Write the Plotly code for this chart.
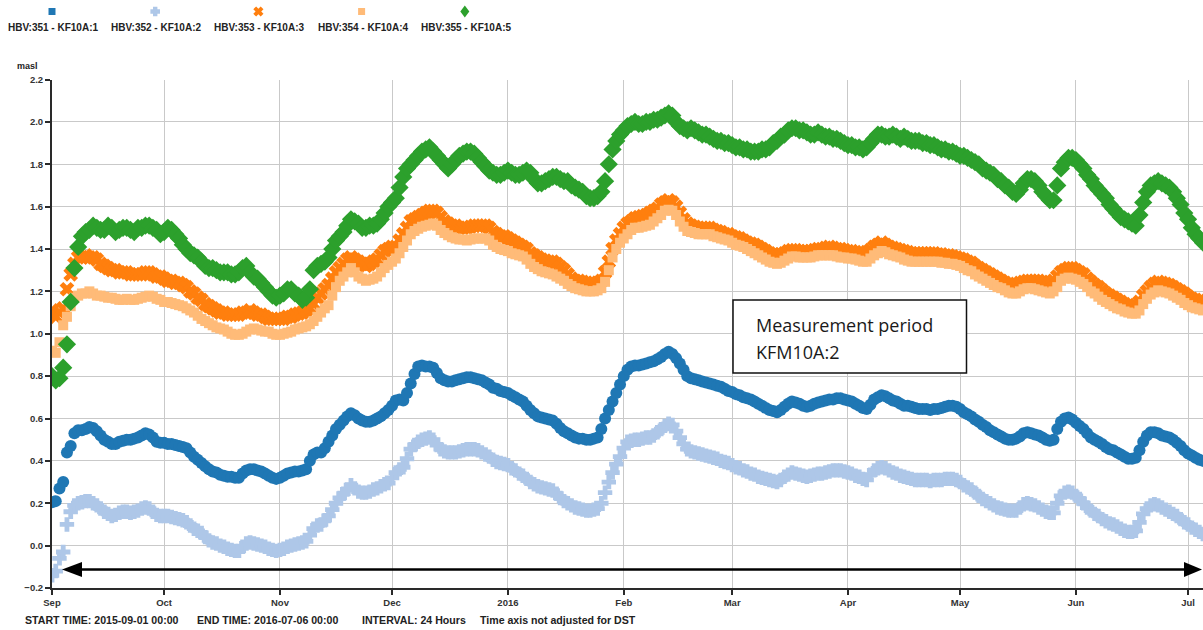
import math
import pandas as pd
import plotly.graph_objects as go

# ---------------------------------------------------------------------------
# Daily groundwater levels (masl) from 2015-09-01, ten days per row
# ---------------------------------------------------------------------------
START_DATE = "2015-09-01"

HBV351 = [
    0.205, 0.21, 0.27, 0.30, 0.44, 0.47, 0.53, 0.545, 0.545, 0.55,
    0.56, 0.555, 0.54, 0.52, 0.50, 0.49, 0.48, 0.48, 0.49, 0.495,
    0.50, 0.50, 0.505, 0.51, 0.52, 0.53, 0.525, 0.51, 0.49, 0.485,
    0.485, 0.48, 0.48, 0.475, 0.47, 0.465, 0.46, 0.44, 0.42, 0.405,
    0.39, 0.375, 0.36, 0.35, 0.345, 0.335, 0.33, 0.325, 0.325, 0.32,
    0.32, 0.34, 0.355, 0.36, 0.36, 0.355, 0.35, 0.34, 0.33, 0.32,
    0.315, 0.32, 0.33, 0.34, 0.345, 0.35, 0.35, 0.355, 0.36, 0.40,
    0.43, 0.44, 0.44, 0.46, 0.49, 0.52, 0.55, 0.57, 0.59, 0.61,
    0.625, 0.615, 0.60, 0.59, 0.585, 0.585, 0.59, 0.60, 0.61, 0.625,
    0.64, 0.66, 0.685, 0.69, 0.685, 0.72, 0.765, 0.81, 0.845, 0.85,
    0.845, 0.845, 0.84, 0.815, 0.79, 0.78, 0.775, 0.775, 0.78, 0.785,
    0.79, 0.795, 0.795, 0.79, 0.785, 0.78, 0.77, 0.76, 0.745, 0.74,
    0.73, 0.725, 0.72, 0.71, 0.70, 0.69, 0.68, 0.66, 0.64, 0.625,
    0.61, 0.605, 0.60, 0.595, 0.59, 0.575, 0.555, 0.54, 0.53, 0.52,
    0.51, 0.505, 0.505, 0.50, 0.50, 0.505, 0.51, 0.55, 0.60, 0.64,
    0.68, 0.72, 0.76, 0.80, 0.83, 0.845, 0.85, 0.85, 0.855, 0.86,
    0.865, 0.87, 0.88, 0.89, 0.905, 0.915, 0.905, 0.885, 0.86, 0.83,
    0.80, 0.79, 0.785, 0.78, 0.775, 0.77, 0.765, 0.76, 0.755, 0.75,
    0.74, 0.73, 0.725, 0.715, 0.71, 0.70, 0.695, 0.69, 0.68, 0.67,
    0.66, 0.65, 0.64, 0.635, 0.63, 0.64, 0.655, 0.67, 0.68, 0.675,
    0.67, 0.66, 0.655, 0.66, 0.67, 0.675, 0.68, 0.685, 0.69, 0.69,
    0.695, 0.695, 0.69, 0.685, 0.68, 0.67, 0.66, 0.65, 0.645, 0.665,
    0.69, 0.70, 0.71, 0.705, 0.695, 0.685, 0.68, 0.67, 0.66, 0.66,
    0.655, 0.65, 0.645, 0.645, 0.645, 0.64, 0.645, 0.645, 0.65, 0.655,
    0.66, 0.66, 0.655, 0.645, 0.63, 0.62, 0.61, 0.595, 0.585, 0.57,
    0.56, 0.545, 0.535, 0.525, 0.515, 0.505, 0.50, 0.50, 0.505, 0.515,
    0.53, 0.535, 0.53, 0.525, 0.52, 0.51, 0.50, 0.495, 0.50, 0.55,
    0.585, 0.60, 0.605, 0.595, 0.58, 0.565, 0.55, 0.53, 0.51, 0.50,
    0.49, 0.48, 0.465, 0.455, 0.45, 0.44, 0.43, 0.42, 0.41, 0.41,
    0.415, 0.45, 0.49, 0.52, 0.535, 0.535, 0.53, 0.52, 0.515, 0.51,
    0.50, 0.485, 0.47, 0.45, 0.435, 0.425, 0.415, 0.405, 0.40,
]

HBV352 = [
    -0.14, -0.12, -0.06, -0.03, 0.10, 0.16, 0.19, 0.20, 0.205, 0.21,
    0.21, 0.20, 0.19, 0.175, 0.16, 0.15, 0.14, 0.145, 0.155, 0.16,
    0.16, 0.155, 0.16, 0.165, 0.175, 0.18, 0.175, 0.16, 0.145, 0.14,
    0.14, 0.14, 0.135, 0.13, 0.125, 0.12, 0.11, 0.095, 0.08, 0.07,
    0.06, 0.04, 0.025, 0.015, 0.01, 0.0, -0.005, -0.015, -0.02, -0.025,
    -0.025, -0.005, 0.01, 0.015, 0.01, 0.005, 0.0, -0.005, -0.015, -0.02,
    -0.025, -0.02, -0.015, -0.005, 0.0, 0.005, 0.01, 0.015, 0.02, 0.05,
    0.08, 0.095, 0.10, 0.12, 0.14, 0.17, 0.20, 0.225, 0.245, 0.265,
    0.285, 0.27, 0.255, 0.25, 0.25, 0.255, 0.265, 0.27, 0.28, 0.29,
    0.295, 0.32, 0.345, 0.36, 0.37, 0.41, 0.455, 0.475, 0.49, 0.50,
    0.505, 0.51, 0.50, 0.475, 0.455, 0.445, 0.44, 0.44, 0.44, 0.445,
    0.45, 0.455, 0.455, 0.455, 0.45, 0.44, 0.43, 0.42, 0.405, 0.395,
    0.39, 0.385, 0.38, 0.365, 0.355, 0.34, 0.33, 0.315, 0.30, 0.29,
    0.28, 0.275, 0.27, 0.265, 0.26, 0.245, 0.225, 0.21, 0.20, 0.19,
    0.18, 0.175, 0.17, 0.165, 0.165, 0.17, 0.175, 0.20, 0.25, 0.30,
    0.345, 0.385, 0.42, 0.46, 0.49, 0.495, 0.50, 0.50, 0.505, 0.51,
    0.51, 0.52, 0.535, 0.55, 0.565, 0.575, 0.57, 0.54, 0.51, 0.48,
    0.455, 0.445, 0.44, 0.435, 0.43, 0.425, 0.42, 0.415, 0.41, 0.40,
    0.395, 0.39, 0.38, 0.37, 0.365, 0.355, 0.35, 0.34, 0.335, 0.325,
    0.32, 0.315, 0.31, 0.305, 0.30, 0.31, 0.325, 0.335, 0.345, 0.34,
    0.335, 0.33, 0.325, 0.33, 0.335, 0.34, 0.34, 0.345, 0.35, 0.355,
    0.355, 0.355, 0.35, 0.345, 0.34, 0.33, 0.325, 0.315, 0.31, 0.335,
    0.355, 0.365, 0.37, 0.365, 0.355, 0.345, 0.34, 0.33, 0.325, 0.32,
    0.315, 0.31, 0.31, 0.31, 0.31, 0.305, 0.31, 0.31, 0.31, 0.315,
    0.315, 0.315, 0.31, 0.30, 0.285, 0.275, 0.265, 0.25, 0.235, 0.22,
    0.21, 0.20, 0.19, 0.18, 0.175, 0.17, 0.165, 0.165, 0.165, 0.18,
    0.195, 0.20, 0.195, 0.19, 0.18, 0.17, 0.16, 0.155, 0.155, 0.20,
    0.235, 0.25, 0.255, 0.25, 0.235, 0.22, 0.20, 0.18, 0.165, 0.15,
    0.14, 0.125, 0.115, 0.105, 0.10, 0.09, 0.08, 0.07, 0.065, 0.065,
    0.07, 0.11, 0.15, 0.175, 0.19, 0.195, 0.19, 0.18, 0.17, 0.16,
    0.15, 0.14, 0.125, 0.11, 0.10, 0.085, 0.075, 0.065, 0.055,
]

HBV353 = [
    1.11, 1.08, 1.10, 1.12, 1.21, 1.28, 1.33, 1.36, 1.36, 1.37,
    1.36, 1.36, 1.35, 1.33, 1.32, 1.31, 1.30, 1.30, 1.29, 1.29,
    1.29, 1.28, 1.28, 1.28, 1.28, 1.29, 1.29, 1.28, 1.27, 1.27,
    1.26, 1.25, 1.25, 1.24, 1.24, 1.23, 1.22, 1.20, 1.19, 1.17,
    1.16, 1.14, 1.13, 1.12, 1.11, 1.10, 1.10, 1.09, 1.09, 1.09,
    1.09, 1.10, 1.10, 1.11, 1.10, 1.09, 1.09, 1.08, 1.07, 1.07,
    1.07, 1.07, 1.07, 1.08, 1.08, 1.09, 1.095, 1.10, 1.11, 1.12,
    1.14, 1.17, 1.19, 1.21, 1.23, 1.26, 1.29, 1.31, 1.33, 1.35,
    1.36, 1.35, 1.34, 1.33, 1.32, 1.33, 1.34, 1.35, 1.37, 1.39,
    1.40, 1.41, 1.41, 1.44, 1.47, 1.50, 1.53, 1.54, 1.55, 1.56,
    1.57, 1.58, 1.58, 1.57, 1.55, 1.53, 1.52, 1.51, 1.51, 1.50,
    1.50, 1.50, 1.505, 1.51, 1.51, 1.51, 1.51, 1.50, 1.48, 1.47,
    1.46, 1.46, 1.45, 1.44, 1.43, 1.42, 1.41, 1.40, 1.38, 1.37,
    1.36, 1.35, 1.345, 1.34, 1.34, 1.33, 1.315, 1.30, 1.28, 1.26,
    1.25, 1.25, 1.245, 1.24, 1.24, 1.24, 1.24, 1.25, 1.29, 1.34,
    1.40, 1.44, 1.47, 1.50, 1.52, 1.53, 1.545, 1.55, 1.555, 1.56,
    1.57, 1.58, 1.59, 1.61, 1.62, 1.63, 1.62, 1.60, 1.57, 1.54,
    1.52, 1.51, 1.505, 1.50, 1.50, 1.50, 1.50, 1.49, 1.485, 1.48,
    1.47, 1.47, 1.46, 1.455, 1.45, 1.44, 1.43, 1.425, 1.42, 1.41,
    1.40, 1.39, 1.38, 1.375, 1.37, 1.375, 1.38, 1.39, 1.395, 1.395,
    1.39, 1.39, 1.39, 1.39, 1.395, 1.40, 1.40, 1.405, 1.41, 1.405,
    1.40, 1.40, 1.395, 1.39, 1.39, 1.385, 1.385, 1.38, 1.38, 1.395,
    1.41, 1.42, 1.43, 1.42, 1.41, 1.405, 1.40, 1.395, 1.39, 1.385,
    1.38, 1.38, 1.38, 1.38, 1.38, 1.38, 1.38, 1.375, 1.375, 1.37,
    1.37, 1.365, 1.36, 1.355, 1.35, 1.34, 1.335, 1.32, 1.31, 1.30,
    1.29, 1.28, 1.27, 1.26, 1.25, 1.24, 1.235, 1.23, 1.23, 1.24,
    1.245, 1.25, 1.25, 1.25, 1.25, 1.245, 1.245, 1.24, 1.25, 1.27,
    1.29, 1.30, 1.31, 1.31, 1.30, 1.29, 1.28, 1.26, 1.245, 1.23,
    1.22, 1.205, 1.19, 1.18, 1.17, 1.16, 1.15, 1.14, 1.135, 1.13,
    1.13, 1.15, 1.18, 1.20, 1.22, 1.235, 1.245, 1.24, 1.235, 1.23,
    1.22, 1.21, 1.20, 1.19, 1.175, 1.165, 1.16, 1.155, 1.15,
]

HBV354 = [
    0.92, 0.91, 0.96, 1.04, 1.08, 1.13, 1.17, 1.18, 1.19, 1.19,
    1.20, 1.19, 1.18, 1.18, 1.175, 1.17, 1.17, 1.165, 1.16, 1.16,
    1.165, 1.16, 1.16, 1.165, 1.17, 1.175, 1.18, 1.175, 1.165, 1.16,
    1.15, 1.15, 1.145, 1.14, 1.135, 1.13, 1.12, 1.11, 1.10, 1.085,
    1.07, 1.06, 1.05, 1.04, 1.03, 1.025, 1.02, 1.01, 1.00, 0.995,
    0.995, 1.00, 1.01, 1.02, 1.025, 1.02, 1.015, 1.01, 1.01, 1.00,
    0.995, 0.995, 1.00, 1.005, 1.01, 1.02, 1.025, 1.03, 1.035, 1.045,
    1.06, 1.08, 1.10, 1.12, 1.135, 1.18, 1.22, 1.25, 1.27, 1.29,
    1.31, 1.29, 1.27, 1.26, 1.25, 1.255, 1.26, 1.27, 1.29, 1.31,
    1.325, 1.34, 1.355, 1.38, 1.41, 1.44, 1.47, 1.485, 1.495, 1.505,
    1.51, 1.515, 1.52, 1.51, 1.49, 1.475, 1.465, 1.455, 1.45, 1.445,
    1.445, 1.44, 1.445, 1.45, 1.45, 1.45, 1.45, 1.44, 1.42, 1.41,
    1.40, 1.395, 1.39, 1.38, 1.375, 1.37, 1.365, 1.35, 1.33, 1.315,
    1.305, 1.295, 1.29, 1.285, 1.28, 1.27, 1.26, 1.25, 1.235, 1.225,
    1.215, 1.21, 1.205, 1.20, 1.20, 1.20, 1.205, 1.215, 1.245, 1.30,
    1.36, 1.40, 1.43, 1.45, 1.47, 1.49, 1.50, 1.50, 1.505, 1.51,
    1.515, 1.53, 1.545, 1.56, 1.58, 1.585, 1.58, 1.56, 1.53, 1.505,
    1.485, 1.48, 1.475, 1.47, 1.47, 1.47, 1.47, 1.46, 1.455, 1.45,
    1.445, 1.44, 1.43, 1.42, 1.415, 1.41, 1.40, 1.39, 1.38, 1.37,
    1.36, 1.35, 1.34, 1.335, 1.33, 1.335, 1.345, 1.355, 1.365, 1.365,
    1.36, 1.36, 1.36, 1.36, 1.365, 1.37, 1.37, 1.37, 1.37, 1.37,
    1.365, 1.36, 1.36, 1.355, 1.355, 1.35, 1.345, 1.34, 1.34, 1.355,
    1.37, 1.38, 1.39, 1.385, 1.375, 1.37, 1.365, 1.36, 1.35, 1.345,
    1.34, 1.34, 1.34, 1.34, 1.34, 1.34, 1.34, 1.34, 1.335, 1.335,
    1.33, 1.33, 1.325, 1.32, 1.31, 1.30, 1.295, 1.28, 1.27, 1.26,
    1.25, 1.24, 1.23, 1.22, 1.215, 1.205, 1.195, 1.19, 1.19, 1.20,
    1.21, 1.215, 1.215, 1.21, 1.205, 1.20, 1.195, 1.19, 1.20, 1.22,
    1.25, 1.26, 1.265, 1.26, 1.255, 1.245, 1.235, 1.22, 1.20, 1.19,
    1.175, 1.16, 1.15, 1.14, 1.13, 1.12, 1.115, 1.105, 1.10, 1.095,
    1.095, 1.11, 1.14, 1.165, 1.185, 1.195, 1.205, 1.20, 1.195, 1.19,
    1.18, 1.17, 1.16, 1.145, 1.135, 1.125, 1.12, 1.115, 1.11,
]

HBV355 = [
    0.80, 0.78, 0.79, 0.84, 0.95, 1.15, 1.31, 1.41, 1.46, 1.48,
    1.49, 1.51, 1.50, 1.49, 1.49, 1.51, 1.50, 1.48, 1.49, 1.50,
    1.50, 1.49, 1.48, 1.50, 1.50, 1.51, 1.51, 1.50, 1.49, 1.47,
    1.48, 1.50, 1.49, 1.47, 1.45, 1.42, 1.40, 1.38, 1.37, 1.36,
    1.34, 1.32, 1.31, 1.31, 1.30, 1.29, 1.29, 1.29, 1.28, 1.28,
    1.29, 1.31, 1.32, 1.29, 1.27, 1.26, 1.24, 1.22, 1.20, 1.18,
    1.17, 1.18, 1.19, 1.21, 1.21, 1.19, 1.18, 1.16, 1.17, 1.21,
    1.30, 1.32, 1.33, 1.34, 1.36, 1.40, 1.44, 1.46, 1.48, 1.51,
    1.54, 1.53, 1.52, 1.50, 1.50, 1.51, 1.51, 1.52, 1.54, 1.57,
    1.60, 1.62, 1.64, 1.69, 1.74, 1.78, 1.80, 1.82, 1.84, 1.86,
    1.87, 1.88, 1.86, 1.84, 1.82, 1.80, 1.78, 1.80, 1.82, 1.84,
    1.85, 1.86, 1.86, 1.85, 1.83, 1.81, 1.79, 1.77, 1.76, 1.75,
    1.75, 1.76, 1.77, 1.76, 1.75, 1.75, 1.76, 1.77, 1.76, 1.73,
    1.71, 1.71, 1.72, 1.73, 1.74, 1.74, 1.73, 1.72, 1.72, 1.70,
    1.69, 1.68, 1.67, 1.65, 1.64, 1.64, 1.65, 1.67, 1.72, 1.80,
    1.87, 1.91, 1.94, 1.96, 1.98, 1.99, 2.00, 1.99, 1.99, 2.00,
    2.00, 2.01, 2.01, 2.02, 2.03, 2.04, 2.03, 2.00, 1.98, 1.97,
    1.96, 1.97, 1.96, 1.95, 1.94, 1.94, 1.93, 1.92, 1.91, 1.91,
    1.90, 1.90, 1.89, 1.88, 1.88, 1.87, 1.87, 1.86, 1.86, 1.86,
    1.87, 1.87, 1.88, 1.90, 1.91, 1.93, 1.94, 1.96, 1.97, 1.97,
    1.96, 1.96, 1.95, 1.94, 1.94, 1.95, 1.94, 1.93, 1.93, 1.92,
    1.92, 1.91, 1.90, 1.89, 1.89, 1.88, 1.88, 1.87, 1.88, 1.90,
    1.92, 1.94, 1.94, 1.93, 1.93, 1.94, 1.93, 1.92, 1.93, 1.92,
    1.91, 1.91, 1.91, 1.90, 1.90, 1.89, 1.89, 1.88, 1.87, 1.87,
    1.86, 1.86, 1.85, 1.84, 1.84, 1.83, 1.82, 1.81, 1.80, 1.78,
    1.77, 1.76, 1.75, 1.73, 1.72, 1.70, 1.69, 1.67, 1.66, 1.68,
    1.71, 1.73, 1.73, 1.72, 1.70, 1.67, 1.65, 1.63, 1.63, 1.70,
    1.78, 1.81, 1.83, 1.83, 1.82, 1.80, 1.78, 1.75, 1.73, 1.70,
    1.68, 1.66, 1.64, 1.61, 1.59, 1.57, 1.55, 1.54, 1.53, 1.52,
    1.51, 1.56, 1.62, 1.67, 1.70, 1.71, 1.72, 1.71, 1.70, 1.69,
    1.67, 1.64, 1.61, 1.57, 1.54, 1.50, 1.47, 1.45, 1.43,
]

SERIES_NAMES = [
    "HBV:351 - KF10A:1",
    "HBV:352 - KF10A:2",
    "HBV:353 - KF10A:3",
    "HBV:354 - KF10A:4",
    "HBV:355 - KF10A:5",
]
SERIES_VALUES = [HBV351, HBV352, HBV353, HBV354, HBV355]

TICK_DATES = [
    "2015-09-01", "2015-10-01", "2015-11-01", "2015-12-01", "2016-01-01",
    "2016-02-01", "2016-03-01", "2016-04-01", "2016-05-01", "2016-06-01",
    "2016-07-01",
]
TICK_LABELS = ["Sep", "Oct", "Nov", "Dec", "2016", "Feb", "Mar", "Apr",
               "May", "Jun", "Jul"]

FOOTER_TEXTS = [
    "START TIME: 2015-09-01 00:00",
    "END TIME: 2016-07-06 00:00",
    "INTERVAL: 24 Hours",
    "Time axis not adjusted for DST",
]
BOX_LINES = ["Measurement period", "KFM10A:2"]
Y_UNIT = "masl"

# ---------------------------------------------------------------------------
# Styling
# ---------------------------------------------------------------------------
W, H = 1203, 630
COLORS = ["#1f77b4", "#aec7e8", "#ff7f0e", "#ffbb78", "#2ca02c"]
SYMBOLS = ["circle", "cross", "x", "square", "diamond"]
SIZES = [12, 12, 13, 10, 14]

SMALL = dict(family="Liberation Sans, Arial, sans-serif", size=10,
             color="#222222", weight="bold")
AXIS_COLOR = "#2a2a2a"
GRID_COLOR = "#c9c9c9"

# plot-area edges in pixels
LEFT, TOP, BOTTOM = 52, 79.5, 588


def px(x):
    return x / W


def py(y):
    return 1 - y / H


def poly(points):
    pts = [f"{px(x):.5f},{py(y):.5f}" for x, y in points]
    return "M " + " L ".join(pts) + " Z"


def plus_points(cx, cy, a, w, angle=0.0):
    base = [(-w, -a), (w, -a), (w, -w), (a, -w), (a, w), (w, w),
            (w, a), (-w, a), (-w, w), (-a, w), (-a, -w), (-w, -w)]
    c, s = math.cos(angle), math.sin(angle)
    return [(cx + x * c - y * s, cy + x * s + y * c) for x, y in base]


dates = pd.date_range(START_DATE, periods=len(HBV355), freq="D")

fig = go.Figure()
for name, vals, col, sym, size in zip(SERIES_NAMES, SERIES_VALUES, COLORS,
                                      SYMBOLS, SIZES):
    fig.add_trace(go.Scatter(
        x=dates[:len(vals)], y=vals, mode="markers", name=name,
        marker=dict(color=col, symbol=sym, size=size, line=dict(width=0)),
        showlegend=False,
    ))

shapes = []
annotations = []

# legend row: symbol above each label
for i, (name, col) in enumerate(zip(SERIES_NAMES, COLORS)):
    tx = 6 + 103.2 * i
    cx, cy = 52 + 103.2 * i, 11.5
    if i in (0, 3):
        pts = [(cx - 3.5, cy - 3.5), (cx + 3.5, cy - 3.5),
               (cx + 3.5, cy + 3.5), (cx - 3.5, cy + 3.5)]
    elif i == 1:
        pts = plus_points(cx, cy, 4.8, 2.2)
    elif i == 2:
        pts = plus_points(cx, cy, 5.2, 2.0, math.pi / 4)
    else:
        pts = [(cx, cy - 6), (cx + 4.5, cy), (cx, cy + 6), (cx - 4.5, cy)]
    shapes.append(dict(type="path", xref="paper", yref="paper",
                       path=poly(pts), fillcolor=col, line=dict(width=0)))
    annotations.append(dict(x=px(tx), y=py(28), xref="paper", yref="paper",
                            text=name, showarrow=False, xanchor="left",
                            yanchor="middle", font=SMALL))

# axis unit label
annotations.append(dict(x=px(27), y=py(66), xref="paper", yref="paper",
                        text=Y_UNIT, showarrow=False, xanchor="center",
                        yanchor="middle", font={**SMALL, "size": 9}))

# footer
for text, x in zip(FOOTER_TEXTS, [23, 195, 360, 478]):
    annotations.append(dict(x=px(x), y=py(620), xref="paper", yref="paper",
                            text=text, showarrow=False, xanchor="left",
                            yanchor="middle", font={**SMALL, "size": 10.6}))

# measurement period box
shapes.append(dict(type="rect", xref="paper", yref="paper",
                   x0=px(733), x1=px(966.5), y0=py(300), y1=py(373),
                   line=dict(color="#111111", width=1.5), fillcolor="white",
                   layer="above"))
for line, y in zip(BOX_LINES, [325, 352]):
    annotations.append(dict(x=px(754), y=py(y), xref="paper", yref="paper",
                            text=line, showarrow=False, xanchor="left",
                            yanchor="middle",
                            font=dict(family="Open Sans, sans-serif",
                                      size=18, color="#1a1a1a")))

# double-headed arrow spanning the measurement period
ay = 569.5
shapes.append(dict(type="line", xref="paper", yref="paper",
                   x0=px(75), x1=px(1190), y0=py(ay), y1=py(ay),
                   line=dict(color="#000000", width=2.5)))
shapes.append(dict(type="path", xref="paper", yref="paper",
                   path=poly([(62, ay), (82, ay - 7.5), (82, ay + 7.5)]),
                   fillcolor="#000000", line=dict(width=0)))
shapes.append(dict(type="path", xref="paper", yref="paper",
                   path=poly([(1202, ay), (1184, ay - 7.5), (1184, ay + 7.5)]),
                   fillcolor="#000000", line=dict(width=0)))

axis_common = dict(
    showgrid=True, gridcolor=GRID_COLOR, gridwidth=1,
    showline=True, linecolor=AXIS_COLOR, linewidth=2,
    ticks="outside", ticklen=5, tickwidth=1.5, tickcolor=AXIS_COLOR,
    zeroline=False, automargin=False,
    tickfont={**SMALL, "size": 9.5, "color": "#333333"},
)

fig.update_layout(
    width=W, height=H,
    margin=dict(l=0, r=0, t=0, b=0),
    paper_bgcolor="white", plot_bgcolor="white",
    showlegend=False,
    shapes=shapes, annotations=annotations,
    xaxis=dict(
        type="date", range=["2015-09-01", "2016-07-05"],
        domain=[px(LEFT), 1.0],
        tickvals=TICK_DATES, ticktext=TICK_LABELS,
        **axis_common,
    ),
    yaxis=dict(
        range=[-0.2, 2.2], dtick=0.2, tick0=0, tickformat=".1f",
        domain=[py(BOTTOM), py(TOP)],
        **axis_common,
    ),
)

fig.write_html("out.html")
